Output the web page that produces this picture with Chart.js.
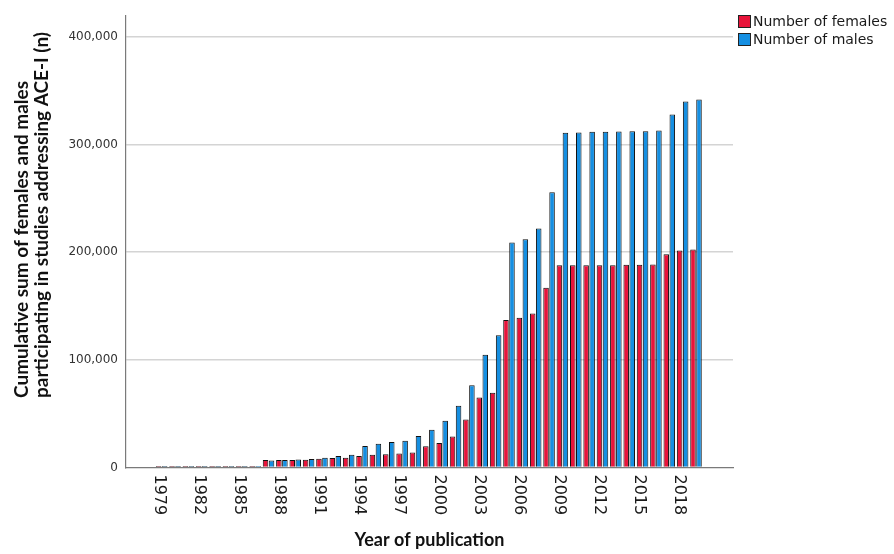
<!DOCTYPE html>
<html>
<head>
<meta charset="utf-8">
<script src="https://cdn.jsdelivr.net/npm/chart.js@4.4.1/dist/chart.umd.min.js"></script>
<style>
  html, body { margin: 0; padding: 0; background: #fff; }
</style>
</head>
<body>
<canvas id="chart" width="894" height="554"></canvas>
<script>
// year of publication (one bar pair per year)
const years = [1979, 1980, 1981, 1982, 1983, 1984, 1985, 1986, 1987, 1988,
  1989, 1990, 1991, 1992, 1993, 1994, 1995, 1996, 1997, 1998,
  1999, 2000, 2001, 2002, 2003, 2004, 2005, 2006, 2007, 2008,
  2009, 2010, 2011, 2012, 2013, 2014, 2015, 2016, 2017, 2018, 2019];

// cumulative number of participants
const females = [100, 150, 200, 250, 300, 350, 900, 1300, 6900, 6900,
  6900, 7200, 8200, 8800, 9100, 10600, 11900, 12200, 13100, 14000,
  19700, 22800, 28700, 44600, 65000, 69300, 137000, 139000, 143000, 167000,
  187700, 187700, 187900, 187900, 187900, 188200, 188200, 188500, 198000, 201500, 202400];

const males = [120, 170, 220, 270, 320, 380, 1000, 1500, 6600, 6900,
  7500, 7800, 9100, 10600, 11900, 19900, 22000, 23600, 24900, 29200,
  35000, 43400, 57300, 76400, 104600, 122800, 209000, 212000, 222000, 255500,
  310800, 311000, 311700, 311700, 312000, 312300, 312300, 313000, 327800, 339900, 341800];

const xTickYears = [1979, 1982, 1985, 1988, 1991, 1994, 1997, 2000, 2003, 2006, 2009, 2012, 2015, 2018];
const yTicks = [0, 100000, 200000, 300000, 400000];

const seriesNames = ['Number of females', 'Number of males'];
const RED = '#e8143a';
const BLUE = '#158fe2';

const yTitle = ['Cumulative sum of females and males', 'participating in studies addressing ACE-I (n)'];

// text drawn by hand: rotated year labels, left-aligned y title, legend
const textPlugin = {
  id: 'textPlugin',
  afterDraw(chart) {
    const ctx = chart.ctx;
    const xs = chart.scales.x;
    ctx.save();
    ctx.fillStyle = '#1a1a1a';

    ctx.font = '16px "DejaVu Sans"';
    ctx.textAlign = 'left';
    ctx.textBaseline = 'middle';
    xTickYears.forEach(yr => {
      ctx.save();
      ctx.translate(xs.getPixelForValue(yr) - 3, xs.top + 7);
      ctx.rotate(Math.PI / 2);
      ctx.fillText(String(yr), 0, 0);
      ctx.restore();
    });

    ctx.save();
    ctx.fillStyle = '#111';
    ctx.font = 'bold 19px Lato';
    ctx.translate(22, 398);
    ctx.rotate(-Math.PI / 2);
    ctx.fillText(yTitle[0], 0, 0);
    ctx.fillText(yTitle[1], 0, 20);
    ctx.restore();

    ctx.font = '14px "DejaVu Sans"';
    [RED, BLUE].forEach((col, i) => {
      const y = 15 + i * 18;
      ctx.fillStyle = col;
      ctx.fillRect(738, y, 13, 13);
      ctx.strokeStyle = '#222';
      ctx.lineWidth = 1;
      ctx.strokeRect(738.5, y + 0.5, 12, 12);
      ctx.fillStyle = '#1a1a1a';
      ctx.fillText(seriesNames[i], 753, y + 7);
    });
    ctx.restore();
  }
};

new Chart(document.getElementById('chart'), {
  type: 'bar',
  data: {
    datasets: [
      {
        label: seriesNames[0],
        data: years.map((yr, i) => ({ x: yr, y: females[i] })),
        backgroundColor: RED,
        borderColor: '#111',
        borderWidth: 1,
        minBarLength: 1.5,
        categoryPercentage: 0.9,
        barPercentage: 0.92,
      },
      {
        label: seriesNames[1],
        data: years.map((yr, i) => ({ x: yr, y: males[i] })),
        backgroundColor: BLUE,
        borderColor: '#111',
        borderWidth: 1,
        minBarLength: 1.5,
        categoryPercentage: 0.9,
        barPercentage: 0.92,
      },
    ],
  },
  plugins: [textPlugin],
  options: {
    responsive: false,
    animation: false,
    layout: {
      padding: { top: 13.5, right: 161, bottom: 0, left: 0 },
    },
    scales: {
      x: {
        type: 'linear',
        min: 1976.33,
        max: 2021.77,
        offset: false,
        afterBuildTicks: (scale) => {
          scale.ticks = xTickYears.map(v => ({ value: v }));
        },
        afterFit: (scale) => { scale.height = 86.5; },
        ticks: { display: false },
        grid: { display: false, drawTicks: false },
        border: { display: true, color: '#7a7a7a', width: 1.2 },
        title: {
          display: true,
          text: 'Year of publication',
          color: '#111',
          font: { family: 'Lato', size: 18, weight: 'bold' },
          padding: { top: 0, bottom: 3 },
        },
      },
      y: {
        min: 0,
        max: 420000,
        afterBuildTicks: (scale) => {
          scale.ticks = yTicks.map(v => ({ value: v }));
        },
        afterFit: (scale) => { scale.width = 126; },
        ticks: {
          color: '#333',
          padding: 8,
          font: { family: 'DejaVu Sans', size: 12 },
          callback: (v) => v.toLocaleString('en-US'),
        },
        grid: {
          drawTicks: false,
          lineWidth: 1.5,
          color: (c) => (c.tick && c.tick.value === 0 ? 'rgba(0,0,0,0)' : '#d4d4d4'),
        },
        border: { display: true, color: '#7a7a7a', width: 1.2 },
      },
    },
    plugins: {
      legend: { display: false },
      tooltip: { enabled: false },
    },
  },
});
</script>
</body>
</html>
